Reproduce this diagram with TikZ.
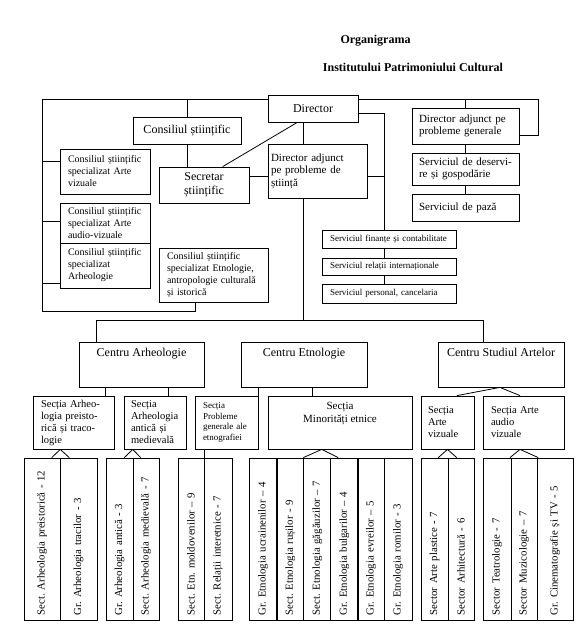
\documentclass[tikz,border=0pt]{standalone}
\usepackage{fontspec}
\setmainfont{Liberation Serif}
\usetikzlibrary{positioning,calc}
\frenchspacing
\tikzset{
  box/.style={draw=black,line width=.8pt,align=left,inner xsep=8pt,inner ysep=2pt,font=\fontsize{10}{12}\selectfont},
  bigbox/.style={box,align=center,inner xsep=2pt,font=\fontsize{12}{14}\selectfont},
  centru/.style={draw=black,line width=.8pt,minimum width=126pt,minimum height=45pt,label={[anchor=north,inner ysep=6pt,font=\fontsize{12}{14}\selectfont]north:#1}},
  sectie/.style={box,minimum height=53pt,font=\fontsize{10.5}{12}\selectfont},
  col/.style={draw=black,line width=.8pt,rotate=90,minimum width=162pt,text width=152pt,inner xsep=5pt,inner ysep=0pt,align=left,font=\fontsize{10.8}{12}\selectfont},
  conn/.style={line width=.8pt,draw=black}
}
\begin{document}
\begin{tikzpicture}[x=1pt,y=-1pt]
\useasboundingbox (0,0) rectangle (579,627);
% Organigrama IPC
\node[font=\bfseries\fontsize{12}{14}\selectfont] (titlu) at (375.5,40.7) {Organigrama};
\node[font=\bfseries\fontsize{12}{14}\selectfont] (subtitlu) at (413,67.7) {Institutului Patrimoniului Cultural};

\node[bigbox,minimum width=90pt,minimum height=27pt] (dir) at (313,108.5) {Director};
\node[bigbox,minimum width=108pt,minimum height=27pt] (cs) at (187,130.5) {Consiliul științific};
\node[bigbox,minimum width=90pt,minimum height=36pt] (sec) at (204,185) {Secretar\\științific};
\node[box,text width=74pt,minimum height=45pt] (csav) at (105,171.5) {Consiliul științific\\specializat Arte\\vizuale};
\node[box,text width=74pt,minimum height=40pt] (csaav) at (105,223) {Consiliul științific\\specializat Arte\\audio-vizuale};
\node[box,text width=74pt,minimum height=45pt] (csarh) at (105,265.5) {Consiliul științific\\specializat\\Arheologie};
\node[box,text width=93pt,minimum height=54pt] (cset) at (213.5,275) {Consiliul științific\\specializat Etnologie,\\antropologie culturală\\și istorică};
\node[box,font=\fontsize{11}{12.5}\selectfont,inner xsep=3pt,text width=93pt,minimum height=54pt] (dast) at (317.5,171) {Director adjunct\\pe probleme de\\știință};
\node[box,font=\fontsize{11}{12}\selectfont,inner xsep=7pt,text width=93pt,minimum height=36pt] (dagen) at (465.5,126) {Director adjunct pe\\probleme generale};
\node[box,font=\fontsize{11}{12}\selectfont,inner xsep=7pt,text width=93pt,minimum height=32pt] (sdes) at (465.5,169) {Serviciul de deservi-\\re și gospodărie};
\node[box,font=\fontsize{11}{12}\selectfont,inner xsep=7pt,text width=93pt,minimum height=27pt] (spaza) at (465.5,207.5) {Serviciul de pază};
\node[box,font=\fontsize{9}{10}\selectfont,text width=118pt,minimum height=18pt] (sfin) at (389,239) {Serviciul finanțe și contabilitate};
\node[box,font=\fontsize{9}{10}\selectfont,text width=118pt,minimum height=17pt] (srel) at (389,266.5) {Serviciul relații internaționale};
\node[box,font=\fontsize{9}{10}\selectfont,text width=118pt,minimum height=19pt] (spers) at (389,293.5) {Serviciul personal, cancelaria};

\node[centru=Centru Arheologie,minimum width=125pt] (ca) at (141.5,364.5) {};
\node[centru=Centru Etnologie] (ce) at (304,364.5) {};
\node[centru=Centru Studiul Artelor] (csa) at (501,364.5) {};

\node[sectie,text width=65pt] (sap) at (73.5,422.5) {Secția Arheo-\\logia preisto-\\rică și traco-\\logie};
\node[sectie,inner xsep=7pt,text width=48pt] (saa) at (155,422.5) {Secția\\Arheologia\\antică și\\medievală};
\node[sectie,font=\fontsize{9}{10.5}\selectfont,text width=47pt] (spg) at (226.5,422.5) {Secția\\Probleme\\generale ale\\etnografiei};
\node[draw=black,line width=.8pt,minimum width=144pt,minimum height=53pt,label={[anchor=north,align=center,inner ysep=6pt,font=\fontsize{11}{13}\selectfont]north:Secția\\Minorități etnice}] (smin) at (340,422.5) {};
\node[sectie,inner xsep=7pt,text width=39pt] (sav) at (447.5,422.5) {Secția\\Arte\\vizuale};
\node[sectie,text width=65pt] (saav) at (523.5,422.5) {Secția Arte\\audio\\vizuale};

\node[col,minimum height=36pt] (apreist) at (42,539) {Sect. Arheologia preistorică - 12};
\node[col,minimum height=37pt] (atrac) at (78.5,539) {Gr. Arheologia tracilor - 3};
\node[col,minimum height=27pt] (aantic) at (119.5,539) {Gr. Arheologia antică - 3};
\node[col,minimum height=26pt] (amedie) at (146,539) {Sect. Arheologia medievală - 7};
\node[col,minimum height=26pt] (emold) at (191,539) {Sect. Etn. moldovenilor – 9};
\node[col,minimum height=28pt] (erel) at (218,539) {Sect. Relații interetnice - 7};
\node[col,minimum height=28pt] (eucr) at (263,539) {Gr. Etnologia ucrainenilor – 4};
\node[col,minimum height=27pt] (erus) at (290.3,539) {Sect. Etnologia rușilor - 9};
\node[col,minimum height=27pt] (egag) at (317.3,539) {Sect. Etnologia găgăuzilor – 7};
\node[col,minimum height=27pt] (ebulg) at (344.3,539) {Gr. Etnologia bulgarilor – 4};
\node[col,minimum height=26pt] (eevr) at (371,539) {Gr. Etnologia evreilor – 5};
\node[col,minimum height=28pt] (erom) at (398,539) {Gr. Etnologia romilor - 3};
\node[col,minimum height=27pt] (aplast) at (434.5,539) {Sector Arte plastice - 7};
\node[col,minimum height=26pt] (arhit) at (461,539) {Sector Arhitectură - 6};
\node[col,minimum height=28pt] (teatr) at (497,539) {Sector Teatrologie - 7};
\node[col,minimum height=26pt] (muzic) at (524,539) {Sector Muzicologie – 7};
\node[col,minimum height=36pt] (cinem) at (555,539) {Gr. Cinematografie și TV - 5};

\coordinate (lt) at (42,99);
\coordinate (lb) at (42,311);
\coordinate (rt) at (538,99);
\coordinate (sv) at (384.3,113.3);
\coordinate (bl) at (96.7,320);
\coordinate (br) at (483.3,320);

\draw[conn] ([yshift=9.5pt]dir.west) -- (lt) -- (lb) -| ([xshift=-18.2pt]cset.south);
\draw[conn] (cs.north) -- (cs.north |- lt);
\draw[conn] ([yshift=9.8pt]csav.west) -- ([yshift=9.8pt]csav.west -| lt);
\draw[conn] ([yshift=2pt]csaav.west) -- ([yshift=2pt]csaav.west -| lt);
\draw[conn] ([yshift=-17.8pt]csarh.west) -- ([yshift=-17.8pt]csarh.west -| lt);
\draw[conn] (cs.south) -- (cs.south |- sec.north);
\draw[conn] ([xshift=18.7pt]sec.north) -- ([xshift=29.7pt]dir.south west);
\draw[conn] ([yshift=8.3pt]sec.east) -- ([yshift=8.3pt]sec.east -| dast.west);
\draw[conn] ([xshift=-9.7pt]dir.south) -- ([xshift=-9.7pt]dir.south |- dast.north);
\draw[conn] ([yshift=9.5pt]dir.east) -- (rt) |- ([yshift=-9pt]dagen.east);
\draw[conn] (dagen.north) -- (dagen.north |- rt);
\draw[conn] (dagen.south) -- (sdes.north);
\draw[conn] (sdes.south) -- (spaza.north);
\draw[conn] ([yshift=-4.8pt]dir.east) -- (sv) -- (sv |- sfin.north);
\draw[conn] ([yshift=-5.7pt]dast.east) -- ([yshift=-5.7pt]dast.east -| sv);
\draw[conn] (sfin.south -| sv) -- (srel.north -| sv);
\draw[conn] (srel.south -| sv) -- (spers.north -| sv);
\draw[conn] ([xshift=-14.2pt]dast.south) -- ([xshift=-14.2pt]dast.south |- bl);
\draw[conn] (bl) -- (br);
\draw[conn] (bl) -- (bl |- ca.north);
\draw[conn] (br) -- (br |- csa.north);
\draw[conn] ([xshift=32.2pt]sap.north) -- ([xshift=32.2pt]sap.north |- ca.south);
\draw[conn] ([xshift=13.3pt]saa.north) -- ([xshift=13.3pt]saa.north |- ca.south);
\draw[conn] (spg.north east) -- (spg.north east |- ce.south);
\draw[conn] ([xshift=-27.7pt]smin.north) -- ([xshift=-27.7pt]smin.north |- ce.south);
\draw[conn] ([xshift=9.5pt]sav.north) -- ([xshift=-1pt]csa.south) -- ([xshift=-3.5pt]saav.north);

\draw[conn] ([xshift=9.7pt]apreist.east) -- ([xshift=-13.2pt]sap.south) -- ([xshift=-9.2pt]atrac.east);
\draw[conn] ([xshift=4.8pt]aantic.east) -- ([xshift=-22.3pt]saa.south) -- ([xshift=-5.3pt]amedie.east);
\draw[conn] ([xshift=-22.2pt]spg.south) -- ([xshift=-22.2pt]spg.south |- emold.east);
\draw[conn] ([xshift=-14pt]egag.east) -- ([xshift=-18.3pt]smin.south) -- ([xshift=-6pt]ebulg.east);
\draw[conn] ([xshift=3.8pt]aplast.east) -- (sav.south) -- ([xshift=-4.3pt]arhit.east);
\draw[conn] ([xshift=13pt]teatr.east) -- ([xshift=-3.5pt]saav.south) -- ([xshift=-16.7pt]cinem.east);
\end{tikzpicture}
\end{document}
